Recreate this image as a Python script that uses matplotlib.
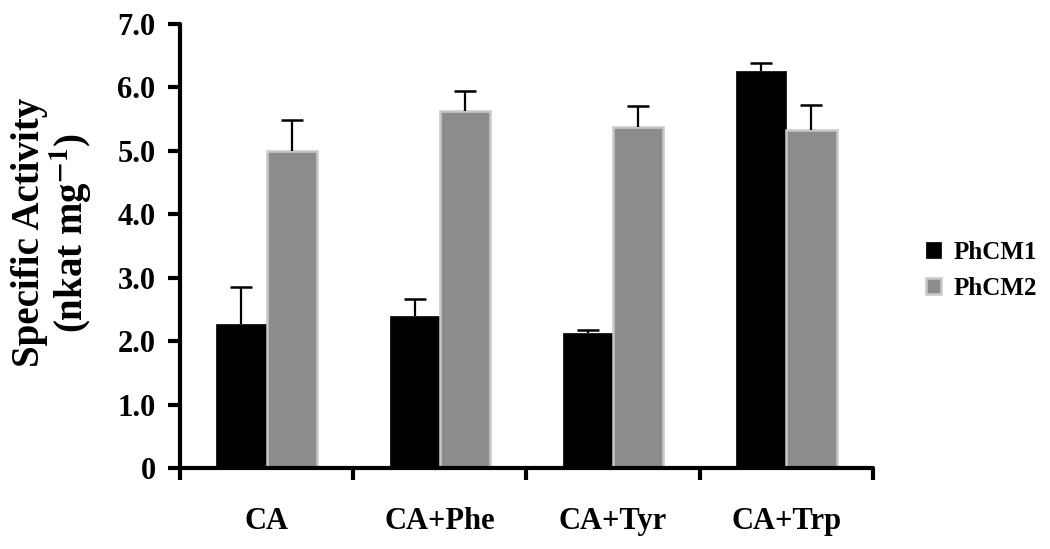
import numpy as np
import matplotlib
matplotlib.use('Agg')
import matplotlib.pyplot as plt

plt.rcParams['font.family'] = ['Liberation Serif', 'DejaVu Serif']
plt.rcParams['font.weight'] = 'bold'
plt.rcParams['mathtext.fontset'] = 'stix'

categories = ['CA', 'CA+Phe', 'CA+Tyr', 'CA+Trp']
phcm1 = [2.27, 2.40, 2.13, 6.26]
phcm1_err = [0.58, 0.27, 0.04, 0.12]
phcm2 = [4.99, 5.63, 5.38, 5.33]
phcm2_err = [0.50, 0.32, 0.32, 0.40]
yticks = [0, 1, 2, 3, 4, 5, 6, 7]
ytick_labels = ['0', '1.0', '2.0', '3.0', '4.0', '5.0', '6.0', '7.0']

fig = plt.figure(figsize=(10.5, 5.49), dpi=100)
ax = fig.add_axes([0.1714, 0.1475, 0.66, 0.8088])

x = np.arange(len(categories))
w = 0.29
ax.bar(x - w / 2, phcm1, w, color='black', edgecolor='black', linewidth=0.5,
       label='PhCM1', zorder=2)
ax.bar(x + w / 2, phcm2, w, color='#8c8c8c', edgecolor='#c8c8c8', linewidth=1.8,
       label='PhCM2', zorder=2)

# only upper error bars, no cap at the bar top
for xs, vals, errs in [(x - w / 2, phcm1, phcm1_err), (x + w / 2, phcm2, phcm2_err)]:
    eb = ax.errorbar(xs, vals, yerr=[np.zeros(4), errs], fmt='none',
                     ecolor='black', elinewidth=1.6, capsize=8, capthick=1.8, zorder=3)
    eb[1][0].set_visible(False)

ax.set_xlim(-0.5, 3.5)
ax.set_ylim(0, 7)
ax.set_yticks(yticks)
ax.set_yticklabels(ytick_labels, fontsize=22, fontweight='bold')
ax.set_xticks(x)
ax.set_xticklabels(categories, fontsize=22, fontweight='bold')
ax.set_xticks(np.arange(-0.5, 4, 1), minor=True)
ax.tick_params(axis='x', which='major', length=0, pad=28)
ax.tick_params(axis='x', which='minor', length=8.6, width=3, direction='out')
ax.tick_params(axis='y', length=8.6, width=3, direction='out', pad=9)

for s in ['top', 'right']:
    ax.spines[s].set_visible(False)
for s in ['left', 'bottom']:
    ax.spines[s].set_linewidth(3)
    ax.spines[s].set_capstyle('round')

ax.set_ylabel('Specific Activity\n(nkat mg$^{\\mathbf{-1}}$)', fontsize=28,
              fontweight='bold', linespacing=1.0)
ax.yaxis.set_label_coords(-0.124, 0.53)

ax.legend(loc='center left', bbox_to_anchor=(1.044, 0.445), frameon=False,
          handlelength=0.62, handleheight=0.62, handletextpad=0.47,
          labelspacing=0.5, prop={'weight': 'bold', 'size': 18})

fig.savefig('out.png', dpi=100)
